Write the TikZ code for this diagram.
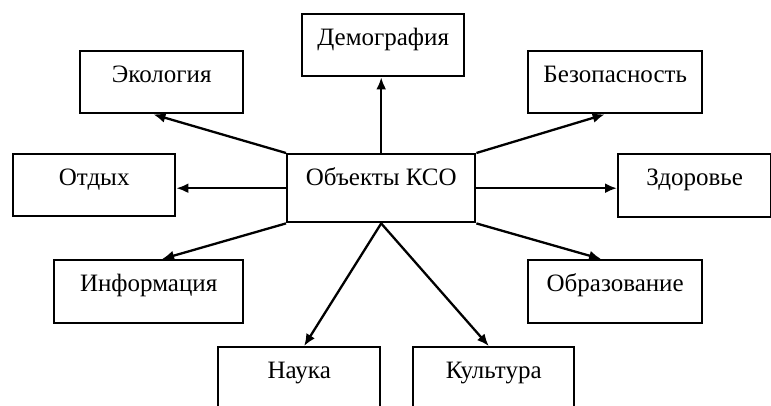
\documentclass[tikz,border=0pt]{standalone}
\usepackage{fontspec}
\setmainfont{Liberation Serif}
\usetikzlibrary{arrows.meta,calc}
\begin{document}
\begin{tikzpicture}[x=1pt,y=-1pt,
  box/.style={draw, line width=2.4pt, inner xsep=0pt, inner ysep=0pt, anchor=north west,
    text height=31pt, font=\fontsize{25}{29}\selectfont},
  arr/.style={line width=2.3pt, -{Latex[length=12pt,width=10pt]}}]
\useasboundingbox (0,0) rectangle (771,405);
\clip (0,0) rectangle (771,405);
\fill[white] (0,0) rectangle (771,405);
\node[box, minimum width=162pt, text depth=31pt] (demo) at (301,13) {Демография};
\node[box, minimum width=163pt, text depth=31pt] (eco) at (79,50) {Экология};
\node[box, minimum width=174pt, text depth=31pt] (bez) at (527,50) {Безопасность};
\node[box, minimum width=162pt, text depth=31pt] (otd) at (12,153) {Отдых};
\node[box, minimum width=188pt, text depth=37pt] (ctr) at (286,153) {Объекты КСО};
\node[box, minimum width=153pt, text depth=32pt] (zdr) at (617,153) {Здоровье};
\node[box, minimum width=189pt, text depth=32pt] (inf) at (53,259) {Информация};
\node[box, minimum width=174pt, text depth=32pt] (obr) at (527,259) {Образование};
\node[box, minimum width=162pt, text depth=40pt] (nau) at (217,346) {Наука};
\node[box, minimum width=161pt, text depth=40pt] (kul) at (412,346) {Культура};
\draw[arr] (ctr.north) -- (ctr.north |- demo.south);
\draw[arr] (ctr.north west) -- ($(eco.south west)!0.45!(eco.south east)$);
\draw[arr] (ctr.north east) -- ($(bez.south west)!0.44!(bez.south east)$);
\draw[arr] (ctr.west) -- (ctr.west -| otd.east);
\draw[arr] (ctr.east) -- (ctr.east -| zdr.west);
\draw[arr] (ctr.south west) -- ($(inf.north west)!0.57!(inf.north east)$);
\draw[arr] (ctr.south east) -- ($(obr.north west)!0.42!(obr.north east)$);
\draw[arr] (ctr.south) -- ($(nau.north west)!0.53!(nau.north east)$);
\draw[arr] (ctr.south) -- ($(kul.north west)!0.47!(kul.north east)$);
\end{tikzpicture}
\end{document}
